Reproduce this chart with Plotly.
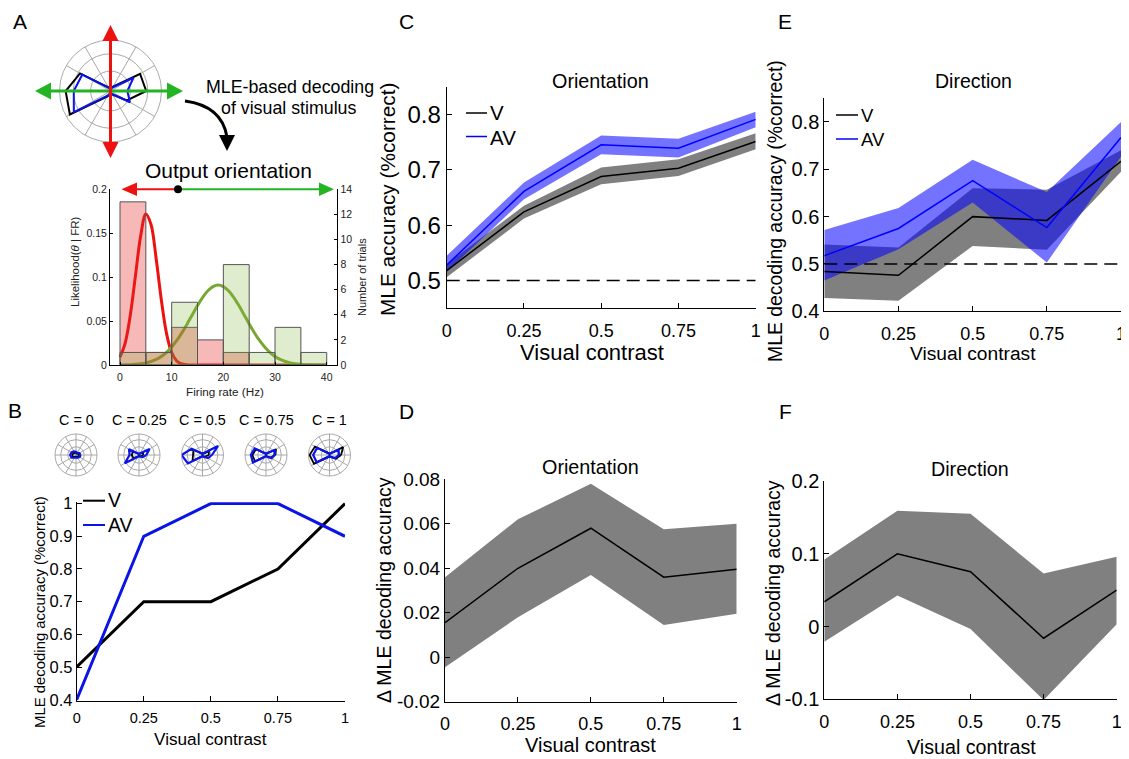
import plotly.graph_objects as go

W, H = 1129, 759
OFF = 8  # the page body adds an 8px margin around the figure div
FONT = "Liberation Sans, Arial, sans-serif"


def fx(p):
    return (p - OFF) / W


def fy(p):
    return 1 - (p - OFF) / H


# ---------------- data ----------------
contrast = [0, 0.25, 0.5, 0.75, 1]
contrast_ticktext = ["0", "0.25", "0.5", "0.75", "1"]

# Panel A : histogram of firing rates + likelihood curves
fr_bins = [2.5, 7.5, 12.5, 17.5, 22.5, 27.5, 32.5, 37.5]
trials_red = [13, 1, 3, 2, 1, 0, 0, 0]
trials_green = [1, 1, 5, 0, 8, 1, 3, 1]
fr_curve = [0, 1, 2, 3, 4, 5, 6, 7, 8, 9, 10, 11, 12, 13, 14, 15, 16, 17, 18, 19, 20,
            21, 22, 23, 24, 25, 26, 27, 28, 29, 30, 31, 32, 33, 34, 35, 36, 37, 38, 39, 40]
lik_red = [0.009, 0.025, 0.057, 0.102, 0.147, 0.172, 0.160, 0.121, 0.074, 0.036, 0.014,
           0.0045, 0.0012, 0.0003, 0.0, 0.0, 0.0, 0.0, 0.0, 0.0, 0.0,
           0.0, 0.0, 0.0, 0.0, 0.0, 0.0, 0.0, 0.0, 0.0, 0.0,
           0.0, 0.0, 0.0, 0.0, 0.0, 0.0, 0.0, 0.0, 0.0, 0.0]
lik_green = [0.0001, 0.0002, 0.0004, 0.0008, 0.0014, 0.0024, 0.004, 0.0063, 0.0097, 0.0143, 0.0204,
             0.0279, 0.0368, 0.0468, 0.0573, 0.0677, 0.0771, 0.0845, 0.0893, 0.091, 0.0893,
             0.0845, 0.0771, 0.0677, 0.0573, 0.0468, 0.0368, 0.0279, 0.0204, 0.0143, 0.0097,
             0.0063, 0.004, 0.0024, 0.0014, 0.0008, 0.0004, 0.0002, 0.0001, 0.0001, 0.0]
hist_xticks = [0, 10, 20, 30, 40]
lik_ticks = [0, 0.05, 0.1, 0.15, 0.2]
lik_ticktext = ["0", "0.05", "0.1", "0.15", "0.2"]
trial_ticks = [0, 2, 4, 6, 8, 10, 12, 14]

# Panel A : polar tuning curve
theta_deg = [0, 30, 60, 90, 120, 150, 180, 210, 240, 270, 300, 330]
A_V_r = [0.70, 0.67, 0.10, 0.05, 0.08, 0.69, 0.88, 0.92, 0.12, 0.05, 0.08, 0.37]
A_AV_r = [0.33, 0.52, 0.08, 0.04, 0.07, 0.64, 0.72, 0.83, 0.10, 0.04, 0.07, 0.44]

# Panel B
B_V = [0.5, 0.7, 0.7, 0.8, 1.0]
B_AV = [0.4, 0.9, 1.0, 1.0, 0.9]
B_yticks = [0.4, 0.5, 0.6, 0.7, 0.8, 0.9, 1.0]
B_yticktext = ["0.4", "0.5", "0.6", "0.7", "0.8", "0.9", "1"]
B_polar_titles = ["C = 0", "C = 0.25", "C = 0.5", "C = 0.75", "C = 1"]
B_polar_V = [
    [0.15, 0.12, 0.08, 0.10, 0.12, 0.15, 0.18, 0.16, 0.10, 0.08, 0.10, 0.12],
    [0.20, 0.22, 0.07, 0.05, 0.07, 0.32, 0.35, 0.30, 0.07, 0.05, 0.07, 0.12],
    [0.30, 0.35, 0.08, 0.05, 0.08, 0.50, 0.45, 0.55, 0.08, 0.05, 0.08, 0.15],
    [0.45, 0.55, 0.08, 0.05, 0.08, 0.55, 0.65, 0.60, 0.08, 0.05, 0.08, 0.25],
    [0.55, 0.75, 0.10, 0.06, 0.12, 0.80, 0.95, 0.85, 0.12, 0.06, 0.10, 0.35],
]
B_polar_AV = [
    [0.22, 0.18, 0.12, 0.15, 0.20, 0.25, 0.28, 0.25, 0.15, 0.12, 0.15, 0.20],
    [0.35, 0.58, 0.08, 0.05, 0.08, 0.55, 0.45, 0.78, 0.10, 0.05, 0.08, 0.20],
    [0.45, 0.85, 0.10, 0.05, 0.10, 0.60, 1.00, 0.80, 0.10, 0.05, 0.10, 0.30],
    [0.40, 0.50, 0.10, 0.05, 0.10, 0.62, 0.72, 0.72, 0.10, 0.05, 0.10, 0.30],
    [0.45, 0.50, 0.08, 0.05, 0.08, 0.68, 0.78, 0.70, 0.08, 0.05, 0.08, 0.30],
]

# Panel C : orientation decoding
C_V = [0.518, 0.624, 0.688, 0.703, 0.751]
C_V_lo = [0.506, 0.612, 0.674, 0.689, 0.737]
C_V_hi = [0.530, 0.635, 0.704, 0.719, 0.766]
C_AV = [0.528, 0.661, 0.745, 0.739, 0.791]
C_AV_lo = [0.516, 0.647, 0.728, 0.722, 0.777]
C_AV_hi = [0.545, 0.677, 0.762, 0.756, 0.805]
C_yticks = [0.5, 0.6, 0.7, 0.8]

# Panel D : orientation difference
D_mean = [0.0155, 0.040, 0.058, 0.036, 0.0395]
D_lo = [-0.0045, 0.018, 0.037, 0.0145, 0.0195]
D_hi = [0.036, 0.062, 0.078, 0.0575, 0.060]
D_yticks = [-0.02, 0, 0.02, 0.04, 0.06, 0.08]
D_yticktext = ["-0.02", "0", "0.02", "0.04", "0.06", "0.08"]

# Panel E : direction decoding
E_V = [0.484, 0.476, 0.600, 0.592, 0.717]
E_V_lo = [0.428, 0.4225, 0.538, 0.530, 0.695]
E_V_hi = [0.541, 0.535, 0.660, 0.657, 0.740]
E_AV = [0.5175, 0.575, 0.676, 0.577, 0.767]
E_AV_lo = [0.465, 0.531, 0.630, 0.503, 0.727]
E_AV_hi = [0.572, 0.618, 0.720, 0.652, 0.800]
E_yticks = [0.4, 0.5, 0.6, 0.7, 0.8]

# Panel F : direction difference
F_mean = [0.034, 0.100, 0.0754, -0.016, 0.050]
F_lo = [-0.021, 0.0425, -0.0035, -0.101, 0.003]
F_hi = [0.092, 0.159, 0.155, 0.073, 0.096]
F_yticks = [-0.1, 0, 0.1, 0.2]
F_yticktext = ["-0.1", "0", "0.1", "0.2"]

chance = [0.5, 0.5]

# ---------------- styles ----------------
BLACK = "#000000"
BLUE = "#0000ff"
GRAY = "#808080"
BLUE_BAND = "rgba(0,0,255,0.55)"
RED = "#ee1111"
GREEN_ARROW = "#22b422"
GREEN_CURVE = "#78a832"

fig = go.Figure()


def band(x, lo, hi, color, xa, ya):
    fig.add_trace(go.Scatter(x=list(x) + list(x)[::-1], y=list(hi) + list(lo)[::-1],
                             fill="toself", fillcolor=color, mode="lines",
                             line=dict(width=0, color=color), hoverinfo="skip",
                             xaxis=xa, yaxis=ya))


def line(x, y, color, width, xa, ya, dash=None, shape="linear"):
    fig.add_trace(go.Scatter(x=x, y=y, mode="lines",
                             line=dict(color=color, width=width, dash=dash, shape=shape),
                             xaxis=xa, yaxis=ya))


# ---- A histogram ----
line(fr_curve, lik_red, RED, 3, "x", "y", shape="spline")
line(fr_curve, lik_green, GREEN_CURVE, 3, "x", "y", shape="spline")
fig.add_trace(go.Bar(x=fr_bins, y=trials_red, width=5,
                     marker=dict(color="rgba(230,40,40,0.33)", line=dict(color="#555555", width=1)),
                     xaxis="x", yaxis="y2"))
fig.add_trace(go.Bar(x=fr_bins, y=trials_green, width=5,
                     marker=dict(color="rgba(130,180,60,0.25)", line=dict(color="#555555", width=1)),
                     xaxis="x", yaxis="y2"))

# ---- B ----
line(contrast, B_V, BLACK, 3, "x2", "y3")
line(contrast, B_AV, "#0a14e6", 3, "x2", "y3")

# ---- C ----
band(contrast, C_V_lo, C_V_hi, GRAY, "x3", "y4")
band(contrast, C_AV_lo, C_AV_hi, BLUE_BAND, "x3", "y4")
line([0, 1], chance, BLACK, 1.5, "x3", "y4", dash="13px,7px")
line(contrast, C_V, BLACK, 1.5, "x3", "y4")
line(contrast, C_AV, BLUE, 1.5, "x3", "y4")

# ---- D ----
band(contrast, D_lo, D_hi, GRAY, "x4", "y5")
line(contrast, D_mean, BLACK, 1.5, "x4", "y5")

# ---- E ----
band(contrast, E_V_lo, E_V_hi, GRAY, "x5", "y6")
band(contrast, E_AV_lo, E_AV_hi, BLUE_BAND, "x5", "y6")
line([0, 1], chance, BLACK, 1.5, "x5", "y6", dash="13px,7px")
line(contrast, E_V, BLACK, 1.5, "x5", "y6")
line(contrast, E_AV, BLUE, 1.5, "x5", "y6")

# ---- F ----
band(contrast, F_lo, F_hi, GRAY, "x6", "y7")
line(contrast, F_mean, BLACK, 1.5, "x6", "y7")

# ---- polar plots ----
th_closed = theta_deg + [theta_deg[0]]


def polar_trace(r, color, width, sub):
    fig.add_trace(go.Scatterpolar(theta=th_closed, r=list(r) + [r[0]], mode="lines",
                                  line=dict(color=color, width=width), subplot=sub))


polar_trace(A_V_r, BLACK, 2, "polar")
polar_trace(A_AV_r, "#0a14e6", 2, "polar")
for i in range(5):
    sub = "polar%d" % (i + 2)
    polar_trace(B_polar_V[i], BLACK, 1.8, sub)
    polar_trace(B_polar_AV[i], "#0a14e6", 2.2, sub)


def polar_layout(cx, cy, r):
    return dict(
        domain=dict(x=[fx(cx - r), fx(cx + r)], y=[fy(cy + r), fy(cy - r)]),
        bgcolor="rgba(0,0,0,0)",
        radialaxis=dict(range=[0, 1], tickvals=[0.39, 0.73], showticklabels=False, ticks="",
                        showline=False, gridcolor="#a8a8a8", gridwidth=0.8),
        angularaxis=dict(tickvals=theta_deg, showticklabels=False, ticks="",
                         gridcolor="#a8a8a8", gridwidth=0.8, linecolor="#a0a0a0", linewidth=0.9,
                         direction="counterclockwise", rotation=0),
    )


B_polar_cx = [76, 139, 202.5, 266, 329.5]
polars = {"polar": polar_layout(110.5, 91, 51)}
for i, cx in enumerate(B_polar_cx):
    polars["polar%d" % (i + 2)] = polar_layout(cx, 455, 21)


# ---------------- axes ----------------
def ax(**kw):
    d = dict(showline=True, linecolor="black", linewidth=1, ticks="inside", ticklen=5,
             tickcolor="black", tickwidth=1, showgrid=False, zeroline=False, mirror=False,
             automargin=False,
             tickfont=dict(family=FONT, size=17, color="black"), fixedrange=True)
    d.update(kw)
    return d


def cax(dom_l, dom_r, anchor, size=18, standoff=6):
    return ax(domain=[fx(dom_l), fx(dom_r)], range=[0, 1], anchor=anchor,
              tickvals=contrast, ticktext=contrast_ticktext,
              tickfont=dict(family=FONT, size=size, color="black"), ticklabelstandoff=standoff)


layout_axes = dict(
    xaxis=ax(domain=[fx(110), fx(337.3)], range=[-1.935, 42.05], anchor="y", tickvals=hist_xticks,
             tickfont=dict(family=FONT, size=10.5, color="#222"), ticklen=3, ticklabelstandoff=2),
    yaxis=ax(domain=[fy(365), fy(189.3)], range=[0, 0.2], anchor="x", tickvals=lik_ticks,
             ticktext=lik_ticktext, tickfont=dict(family=FONT, size=10.5, color="#222"), ticklen=3),
    yaxis2=ax(overlaying="y", side="right", anchor="x", range=[0, 14], tickvals=trial_ticks,
              tickfont=dict(family=FONT, size=10.5, color="#222"), ticklen=3),
    xaxis2=cax(76.7, 345, "y3", size=14.5, standoff=4),
    yaxis3=ax(domain=[fy(700.7), fy(502.3)], range=[0.397, 1.004], anchor="x2", tickvals=B_yticks,
              ticktext=B_yticktext, tickfont=dict(family=FONT, size=16.5, color="black")),
    xaxis3=cax(446.7, 755.7, "y4"),
    yaxis4=ax(domain=[fy(308.3), fy(86.7)], range=[0.45, 0.85], anchor="x3", tickvals=C_yticks,
              tickfont=dict(family=FONT, size=24, color="black")),
    xaxis4=cax(445, 736.7, "y5"),
    yaxis5=ax(domain=[fy(701.7), fy(479.3)], range=[-0.02, 0.08], anchor="x4", tickvals=D_yticks,
              ticktext=D_yticktext, tickfont=dict(family=FONT, size=19, color="black")),
    xaxis5=cax(824.3, 1121, "y6"),
    yaxis6=ax(domain=[fy(311.3), fy(98.3)], range=[0.4, 0.85], anchor="x5", tickvals=E_yticks,
              tickfont=dict(family=FONT, size=20, color="black")),
    xaxis6=cax(824.3, 1116.7, "y7"),
    yaxis7=ax(domain=[fy(699.3), fy(481)], range=[-0.1, 0.2], anchor="x6", tickvals=F_yticks,
              ticktext=F_yticktext, tickfont=dict(family=FONT, size=20, color="black")),
)

# ---------------- annotations ----------------
ann = []


def text(t, x, y, size, angle=0, xanchor="center", color="black", yanchor="middle"):
    ann.append(dict(text=t, x=fx(x), y=fy(y), xref="paper", yref="paper", showarrow=False,
                    xanchor=xanchor, yanchor=yanchor, textangle=angle,
                    font=dict(family=FONT, size=size, color=color)))


# panel letters (top row anchored at the top edge of the figure)
text("A", 20, OFF, 21, yanchor="top")
text("C", 406, OFF, 21, yanchor="top")
text("E", 785, OFF, 21, yanchor="top")
text("B", 15, 410, 21)
text("D", 406, 412, 21)
text("F", 785, 412, 21)

text("MLE-based decoding", 290, 87, 17.8)
text("of visual stimulus", 288, 108, 17.8)
text("Output orientation", 228, 171, 21)
text("Likelihood(<i>θ</i> | FR)", 75, 262, 11.5, angle=-90, color="#222")
text("Number of trials", 362, 277, 11, angle=-90, color="#222")
text("Firing rate (Hz)", 225, 391, 11.7, color="#222")

for t, cx in zip(B_polar_titles, B_polar_cx):
    text(t, cx, 420, 14.4)

text("Visual contrast", 210, 739, 17.2)
text("MLE decoding accuracy (%correct)", 40, 612, 14.9, angle=-90)
text("V", 106, 500, 19.5, xanchor="left")
text("AV", 106, 525, 19.5, xanchor="left")

text("Orientation", 600, 81, 19.8)
text("MLE accuracy (%correct)", 387, 200, 20.8, angle=-90)
text("Visual contrast", 592, 352, 22)
text("V", 488, 113, 20.5, xanchor="left")
text("AV", 488, 137, 20.5, xanchor="left")

text("Direction", 973, 81, 19.5)
text("MLE decoding accuracy (%correct)", 775, 211, 19.4, angle=-90)
text("Visual contrast", 973, 353, 19.2)
text("V", 859, 115, 18.5, xanchor="left")
text("AV", 859, 139, 18.5, xanchor="left")

text("Orientation", 590, 467, 19.8)
text("Δ MLE decoding accuracy", 384, 590, 19.5, angle=-90)
text("Visual contrast", 591, 745, 20)

text("Direction", 970, 469, 19.7)
text("Δ MLE decoding accuracy", 773, 593, 19.5, angle=-90)
text("Visual contrast", 971, 747, 19.7)

# ---------------- shapes ----------------
shapes = []


def seg(x0, y0, x1, y1, color, width):
    shapes.append(dict(type="line", xref="paper", yref="paper", x0=fx(x0), y0=fy(y0),
                       x1=fx(x1), y1=fy(y1), line=dict(color=color, width=width), layer="above"))


def poly(pts, color):
    path = "M " + " L ".join("%f,%f" % (fx(a), fy(b)) for a, b in pts) + " Z"
    shapes.append(dict(type="path", xref="paper", yref="paper", path=path, fillcolor=color,
                       line=dict(width=0), layer="above"))


# green horizontal double arrow through the top polar
seg(49, 91, 168, 91, GREEN_ARROW, 3)
poly([(35, 91), (51, 82.5), (51, 99.5)], GREEN_ARROW)
poly([(183, 91), (167, 82.5), (167, 99.5)], GREEN_ARROW)
# red vertical double arrow
seg(110.5, 39, 110.5, 144, RED, 3)
poly([(110.5, 25), (102.5, 41), (118.5, 41)], RED)
poly([(110.5, 158), (102.5, 142), (118.5, 142)], RED)

# curved decoding arrow
shapes.append(dict(type="path", xref="paper", yref="paper",
                   path="M %f,%f Q %f,%f %f,%f" % (fx(185), fy(101), fx(222), fy(106), fx(227), fy(137)),
                   line=dict(color="black", width=3), layer="above"))
poly([(227, 151), (219, 135), (235, 135)], "black")

# output orientation arrows above histogram
seg(134, 189.3, 178, 189.3, RED, 2)
poly([(121.5, 189.3), (137, 182.5), (137, 196)], RED)
seg(178, 189.3, 321, 189.3, GREEN_ARROW, 2)
poly([(334, 189.3), (319, 182.5), (319, 196)], GREEN_ARROW)
shapes.append(dict(type="circle", xref="paper", yref="paper", x0=fx(174), x1=fx(182),
                   y0=fy(193.3), y1=fy(185.3), fillcolor="black", line=dict(width=0), layer="above"))

# legend keys
seg(83, 500.7, 105, 500.7, BLACK, 2)
seg(83, 525, 105, 525, "#0a14e6", 2)
seg(466, 113, 487, 113, BLACK, 1.5)
seg(466, 136.5, 487, 136.5, BLUE, 1.5)
seg(836, 115, 858, 115, BLACK, 1.5)
seg(836, 139, 858, 139, BLUE, 1.5)

fig.update_layout(
    template="none",
    width=W, height=H, autosize=False, margin=dict(l=0, r=0, t=0, b=0, pad=0),
    paper_bgcolor="white", plot_bgcolor="rgba(0,0,0,0)", showlegend=False,
    barmode="overlay", font=dict(family=FONT, color="black"),
    annotations=ann, shapes=shapes, **layout_axes, **polars,
)

fig.write_html("out.html")
